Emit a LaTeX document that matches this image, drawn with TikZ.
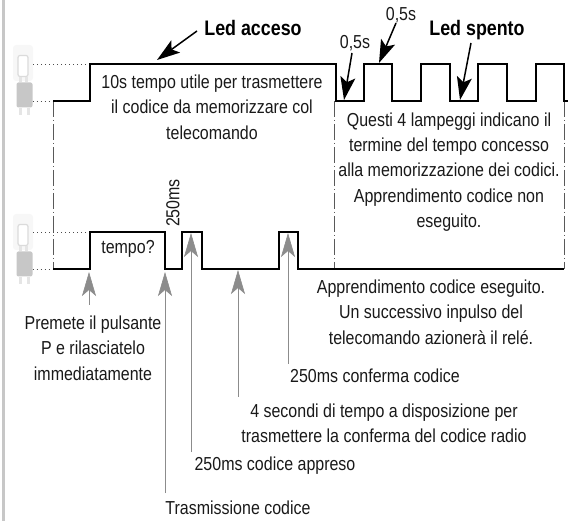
\documentclass[tikz,border=0pt]{standalone}
\usepackage{fontspec}
\setmainfont[FakeStretch=0.85]{Liberation Sans}
\usetikzlibrary{arrows.meta}

\begin{document}
\begin{tikzpicture}[x=1pt, y=-1pt,
    signal/.style={line width=1.9pt, black, line join=miter},
    guide/.style={black!70, line width=0.7pt, dash pattern=on 1pt off 3pt},
    limit/.style={black!65, line width=0.6pt, dash pattern=on 16pt off 3pt on 1pt off 3pt},
    label/.style={font=\fontsize{18.8}{25.3}\selectfont, align=center, inner sep=0pt, text=black!90},
    title/.style={font=\fontsize{21}{24}\selectfont\bfseries, inner sep=0pt},
    blackarrow/.style={-{Stealth[length=23pt, width=15pt, inset=5pt]}, line width=1.5pt, black},
    greyarrow/.style={-{Stealth[length=24pt, width=14pt, inset=6pt]}, line width=0.6pt, black!45},
    ledglow/.style={fill=black!3, rounded corners=3pt, minimum width=20pt, minimum height=36pt, inner sep=0pt},
    ledon/.style={draw=black!14, fill=white, line width=1.2pt, rounded corners=2pt, minimum width=10pt, minimum height=21pt, inner sep=0pt},
    ledoff/.style={fill=black!22, rounded corners=2pt, minimum width=16pt, minimum height=25pt, inner sep=0pt},
    ledleg/.style={black!10, line width=3pt}
]
    \useasboundingbox (0,0) rectangle (568,521);
    % --- Left border ---
    \fill[black!22] (2,0) rectangle (5,521);

    % --- Led icons ---
    \node[ledglow] (onA) at (23,63) {};
    \node[ledon] (bulbA) at (23,66) {};
    \draw[ledleg] (20,77) -- (20,82);
    \draw[ledleg] (26,77) -- (26,82);
    \node[ledoff] (offA) at (24.5,95) {};
    \draw[ledleg] (20,108) -- (20,115);
    \draw[ledleg] (28,108) -- (28,115);
    \node[ledglow] (onB) at (23,232) {};
    \node[ledon] (bulbB) at (23,235) {};
    \draw[ledleg] (20,246) -- (20,251);
    \draw[ledleg] (26,246) -- (26,251);
    \node[ledoff] (offB) at (24.5,264) {};
    \draw[ledleg] (20,277) -- (20,284);
    \draw[ledleg] (28,277) -- (28,284);

    % --- Corner points ---
    \coordinate (startA) at (53,101);
    \coordinate (startB) at (53,269);
    \coordinate (endA) at (568,101);
    \coordinate (endB) at (564,269);
    \coordinate (fallA) at (334,101);
    \coordinate (fallB) at (334,269);
    \coordinate (lastA) at (564,101);
    \coordinate (riseA) at (90,64);
    \coordinate (riseB) at (90,232);

    % --- Levels ---
    \draw[guide] (onA.east |- riseA) -- (riseA);
    \draw[guide] (offA.east |- startA) -- (startA);
    \draw[guide] (onB.east |- riseB) -- (riseB);
    \draw[guide] (offB.east |- startB) -- (startB);

    % --- Limits ---
    \draw[limit] (startA) -- (startB);
    \draw[limit] (fallA) -- (fallB);
    \draw[limit] (lastA) -- (endB);

    % --- Signals ---
    \draw[signal] (startA) -- (90,101) -- (riseA) -- (336,64) -- (336,101) -- (364,101) -- (364,64)
        -- (392,64) -- (392,101) -- (421,101) -- (421,64) -- (450,64) -- (450,101) -- (478,101) -- (478,64)
        -- (507,64) -- (507,101) -- (536,101) -- (536,64) -- (564,64) -- (564,101) -- (endA);
    \draw[signal] (startB) -- (90,269) -- (riseB) -- (165,232) -- (165,269) -- (182,269) -- (182,232)
        -- (202,232) -- (202,269) -- (279,269) -- (279,232) -- (298,232) -- (298,269) -- (endB);

    % --- Titles and black arrows ---
    \node[title] (acceso) at (253,28) {Led acceso};
    \node[title] (spento) at (477,30) {Led spento};
    \node[label] (half1) at (355,43) {0,5s};
    \node[label] (half2) at (401,15) {0,5s};
    \coordinate (tailA) at (197,31);
    \coordinate (tailB) at (352,53);
    \coordinate (tailC) at (396,23);
    \coordinate (tailD) at (471,43);
    \coordinate (tipA) at (157,60);
    \coordinate (tipB) at (344,100);
    \coordinate (tipC) at (379,63);
    \coordinate (tipD) at (460,100);
    \draw[blackarrow] (tailA) -- (tipA);
    \draw[blackarrow] (tailB) -- (tipB);
    \draw[blackarrow] (tailC) -- (tipC);
    \draw[blackarrow] (tailD) -- (tipD);

    % --- Texts ---
    \node[label] (wait) at (212,107) {10s tempo utile per trasmettere\\il codice da memorizzare col\\telecomando};
    \node[label] (blink) at (449,172) {Questi 4 lampeggi indicano il\\termine del tempo concesso\\alla memorizzazione dei codici.\\Apprendimento codice non\\eseguito.};
    \node[label] (ask) at (128,249) {tempo?};
    \node[label, rotate=90] (short) at (173,203) {250ms};
    \node[label] (done) at (431,312) {Apprendimento codice eseguito.\\Un successivo inpulso del\\telecomando azionerà il relé.};
    \node[label] (press) at (93,348) {Premete il pulsante\\P e rilasciatelo\\immediatamente};
    \node[label] (confirm) at (375,376) {250ms conferma codice};
    \node[label] (radio) at (384,423) {4 secondi di tempo a disposizione per\\trasmettere la conferma del codice radio};
    \node[label] (learnt) at (275,466) {250ms codice appreso};
    \node[label] (send) at (238,508) {Trasmissione codice};

    % --- Grey arrows ---
    \coordinate (fromA) at (89,305);
    \coordinate (fromB) at (165,493);
    \coordinate (fromC) at (191,452);
    \coordinate (fromD) at (238,397);
    \coordinate (fromE) at (288,364);
    \draw[greyarrow] (fromA) -- (89,272);
    \draw[greyarrow] (fromB) -- (165,272);
    \draw[greyarrow] (fromC) -- (191,233);
    \draw[greyarrow] (fromD) -- (238,270);
    \draw[greyarrow] (fromE) -- (288,233);
\end{tikzpicture}
\end{document}
